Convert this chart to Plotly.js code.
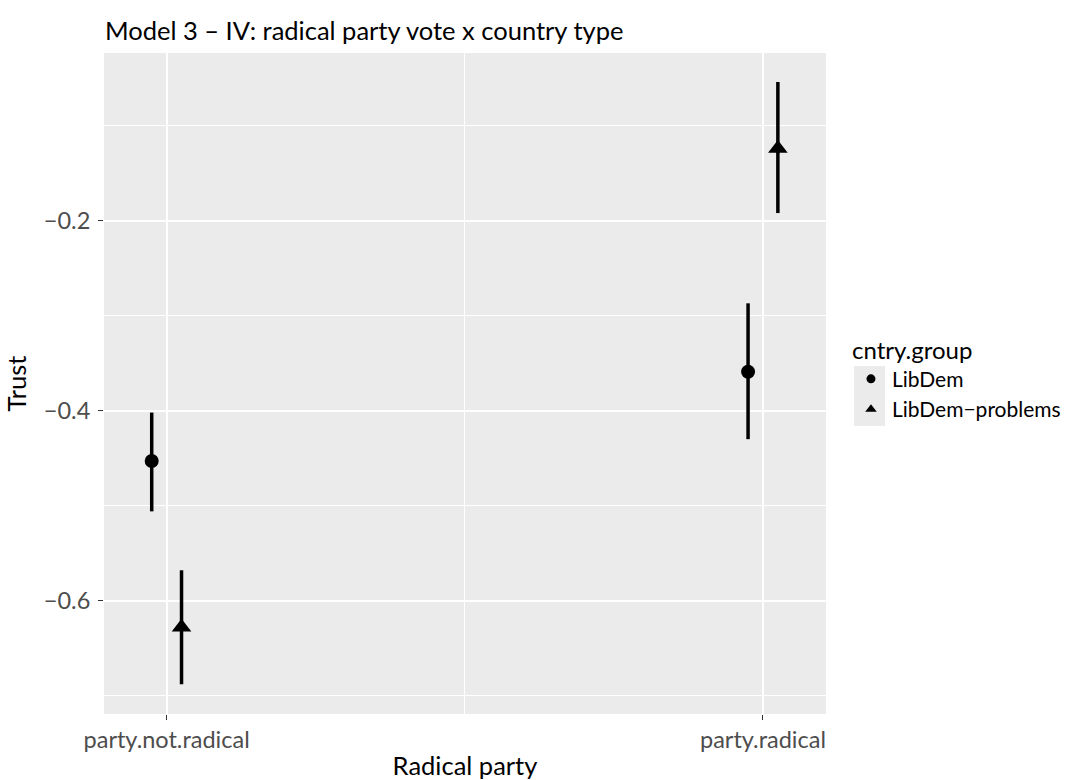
<!DOCTYPE html>
<html>
<head>
<meta charset="utf-8">
<script src="https://cdn.plot.ly/plotly-3.0.1.min.js"></script>
<style>html,body{margin:0;padding:0;background:#fff;}#chart{width:1071px;height:780px;}</style>
</head>
<body>
<div id="chart"></div>
<script>
const categories = ["party.not.radical", "party.radical"];
const groups = ["LibDem", "LibDem\u2212problems"];
const libdemEst = [-0.453, -0.359];
const libdemLow = [-0.506, -0.430];
const libdemHigh = [-0.402, -0.287];
const problemsEst = [-0.628, -0.124];
const problemsLow = [-0.688, -0.192];
const problemsHigh = [-0.568, -0.054];

const dodge = 0.025;
const catIdx = categories.map((c, i) => i);

function mkTrace(name, est, low, high, offset, symbol, size) {
  return {
    type: "scatter", mode: "markers", name: name, showlegend: false,
    x: catIdx.map(i => i + offset), y: est,
    marker: {symbol: symbol, size: size, color: "#000"},
    error_y: {type: "data", symmetric: false,
      array: est.map((v, i) => high[i] - v),
      arrayminus: est.map((v, i) => v - low[i]),
      color: "#000", thickness: 3.5, width: 0},
    hoverinfo: "x+y"
  };
}
const traces = [
  mkTrace(groups[0], libdemEst, libdemLow, libdemHigh, -dodge, "circle", 14),
  mkTrace(groups[1], problemsEst, problemsLow, problemsHigh, dodge, "triangle-up", 17),
  {type: "scatter", mode: "markers", name: groups[0], x: [null], y: [null], marker: {symbol: "circle", size: 9, color: "#000"}},
  {type: "scatter", mode: "markers", name: groups[1], x: [null], y: [null], marker: {symbol: "triangle-up", size: 10, color: "#000"}}
];

const layout = {
  width: 1071, height: 780,
  paper_bgcolor: "#fff", plot_bgcolor: "#EBEBEB",
  margin: {l: 104, r: 245, t: 53, b: 66, autoexpand: false},
  font: {family: "Lato, 'Open Sans', sans-serif", color: "#000"},
  title: {text: "Model 3 \u2013 IV: radical party vote x country type", x: 0.098, xanchor: "left", y: 0.972, yanchor: "top", font: {size: 25.5, color: "#000"}},
  xaxis: {
    range: [-0.105, 1.1057], tickmode: "array", tickvals: catIdx, ticktext: categories,
    showgrid: true, gridcolor: "#fff", gridwidth: 2, zeroline: false, showline: false,
    ticks: "outside", ticklen: 5, tickwidth: 1, tickcolor: "#333", ticklabelstandoff: 0,
    tickfont: {size: 23.5, color: "#4D4D4D"},
    minor: {tickmode: "array", tickvals: [0.5], showgrid: true, gridcolor: "#fff", gridwidth: 1, ticks: ""},
    title: {text: "Radical party", font: {size: 25.5, color: "#000"}, standoff: 8}
  },
  yaxis: {
    range: [-0.7193, -0.0235], tickmode: "array", tickvals: [-0.6, -0.4, -0.2], ticktext: ["\u22120.6", "\u22120.4", "\u22120.2"],
    showgrid: true, gridcolor: "#fff", gridwidth: 2, zeroline: false, showline: false,
    ticks: "outside", ticklen: 5, tickwidth: 1, tickcolor: "#333", ticklabelstandoff: 3,
    tickfont: {size: 23.5, color: "#4D4D4D"},
    minor: {tickmode: "array", tickvals: [-0.7, -0.5, -0.3, -0.1], showgrid: true, gridcolor: "#fff", gridwidth: 1, ticks: ""},
    title: {text: "Trust", font: {size: 25.5, color: "#000"}, standoff: 9}
  },
  legend: {
    x: 1.0332, xanchor: "left", y: 0.5847, yanchor: "top",
    title: {text: "cntry.group", font: {size: 24, color: "#000"}},
    font: {size: 21, color: "#000"}, bgcolor: "rgba(0,0,0,0)", tracegroupgap: 0, itemsizing: "trace", itemwidth: 32
  },
  shapes: [
    {type: "rect", xref: "paper", yref: "paper", x0: 1.0388, x1: 1.0817, y0: 0.4357, y1: 0.5265, fillcolor: "#EBEBEB", line: {width: 0}, layer: "below"}
  ]
};
Plotly.newPlot("chart", traces, layout, {displayModeBar: false});
</script>
</body>
</html>
